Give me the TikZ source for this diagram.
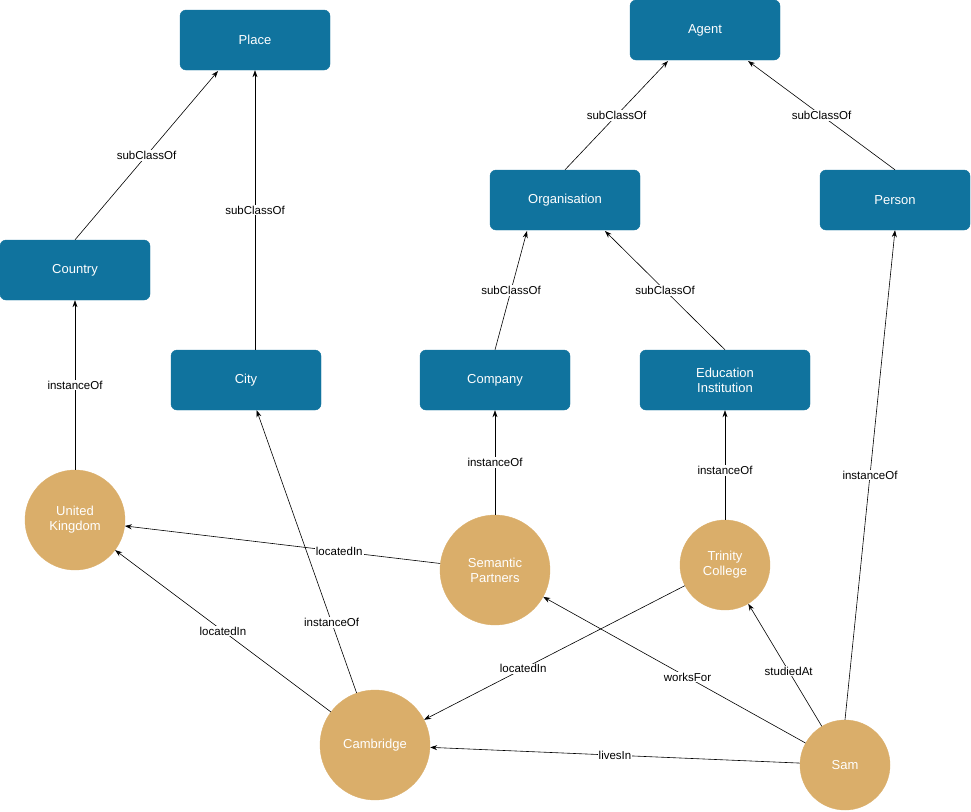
\documentclass[tikz,border=0pt]{standalone}
\usepackage{fontspec}
\setmainfont{Liberation Sans}
\usetikzlibrary{arrows.meta}
\definecolor{cls}{HTML}{10739E}
\definecolor{ins}{HTML}{DAAE6A}
\begin{document}
\begin{tikzpicture}[x=1pt,y=-1pt,
 cls/.style={draw=cls,fill=cls,rounded corners=6pt,minimum width=150pt,minimum height=60pt,text=white,font=\fontsize{13}{15}\selectfont,align=center},
 ins/.style={circle,draw=ins,fill=ins,text=white,font=\fontsize{13}{15}\selectfont,align=center,inner sep=0pt},
 e/.style={-{Stealth[length=7pt,width=5pt]},line width=0.6pt},
 l/.style={fill=white,inner sep=1pt,font=\fontsize{11.5}{13}\selectfont}]
\useasboundingbox (0,0) rectangle (971,811);
\node[cls] (place) at (255,40) {Place};
\node[cls] (agent) at (705,30) {Agent};
\node[cls] (org) at (565,200) {Organisation};
\node[cls] (person) at (895,200) {Person};
\node[cls] (country) at (75,270) {Country};
\node[cls] (city) at (246,380) {City};
\node[cls] (company) at (495,380) {Company};
\node[cls,minimum width=170pt] (edu) at (725,380) {Education\\Institution};
\node[ins,minimum size=100pt] (uk) at (75,520) {United\\Kingdom};
\node[ins,minimum size=110pt] (sp) at (495,570) {Semantic\\Partners};
\node[ins,minimum size=90pt] (tc) at (725,565) {Trinity\\College};
\node[ins,minimum size=110pt] (cam) at (375,745) {Cambridge};
\node[ins,minimum size=90pt] (sam) at (845,765) {Sam};
\draw[e] (country.north) -- (218,71) coordinate (p1) node[pos=0.5,l]{subClassOf};
\draw[e] (city.north -| place) -- (place) node[pos=0.5,l]{subClassOf};
\draw[e] (org.north) -- (668,61) node[pos=0.5,l]{subClassOf};
\draw[e] (person.north) -- (748,61) node[pos=0.5,l]{subClassOf};
\draw[e] (company.north) -- (527,231) node[pos=0.5,l]{subClassOf};
\draw[e] (edu.north) -- (605,231) node[pos=0.5,l]{subClassOf};
\draw[e] (uk) -- (country) node[pos=0.5,l]{instanceOf};
\draw[e] (sp) -- (company) node[pos=0.5,l]{instanceOf};
\draw[e] (tc) -- (edu) node[pos=0.45,l]{instanceOf};
\draw[e] (sam.north) -- (person.south) node[pos=0.5,l]{instanceOf};
\draw[e] (sp) -- (uk) node[pos=0.32,l]{locatedIn};
\draw[e] (cam) -- (uk) node[pos=0.5,l]{locatedIn};
\draw[e] (cam) -- (city) node[pos=0.25,l]{instanceOf};
\draw[e] (tc) -- (cam) node[pos=0.62,l]{locatedIn};
\draw[e] (sam) -- (sp) node[pos=0.45,l]{worksFor};
\draw[e] (sam) -- (tc) node[pos=0.45,l]{studiedAt};
\draw[e] (sam) -- (cam) node[pos=0.5,l]{livesIn};
\end{tikzpicture}
\end{document}
